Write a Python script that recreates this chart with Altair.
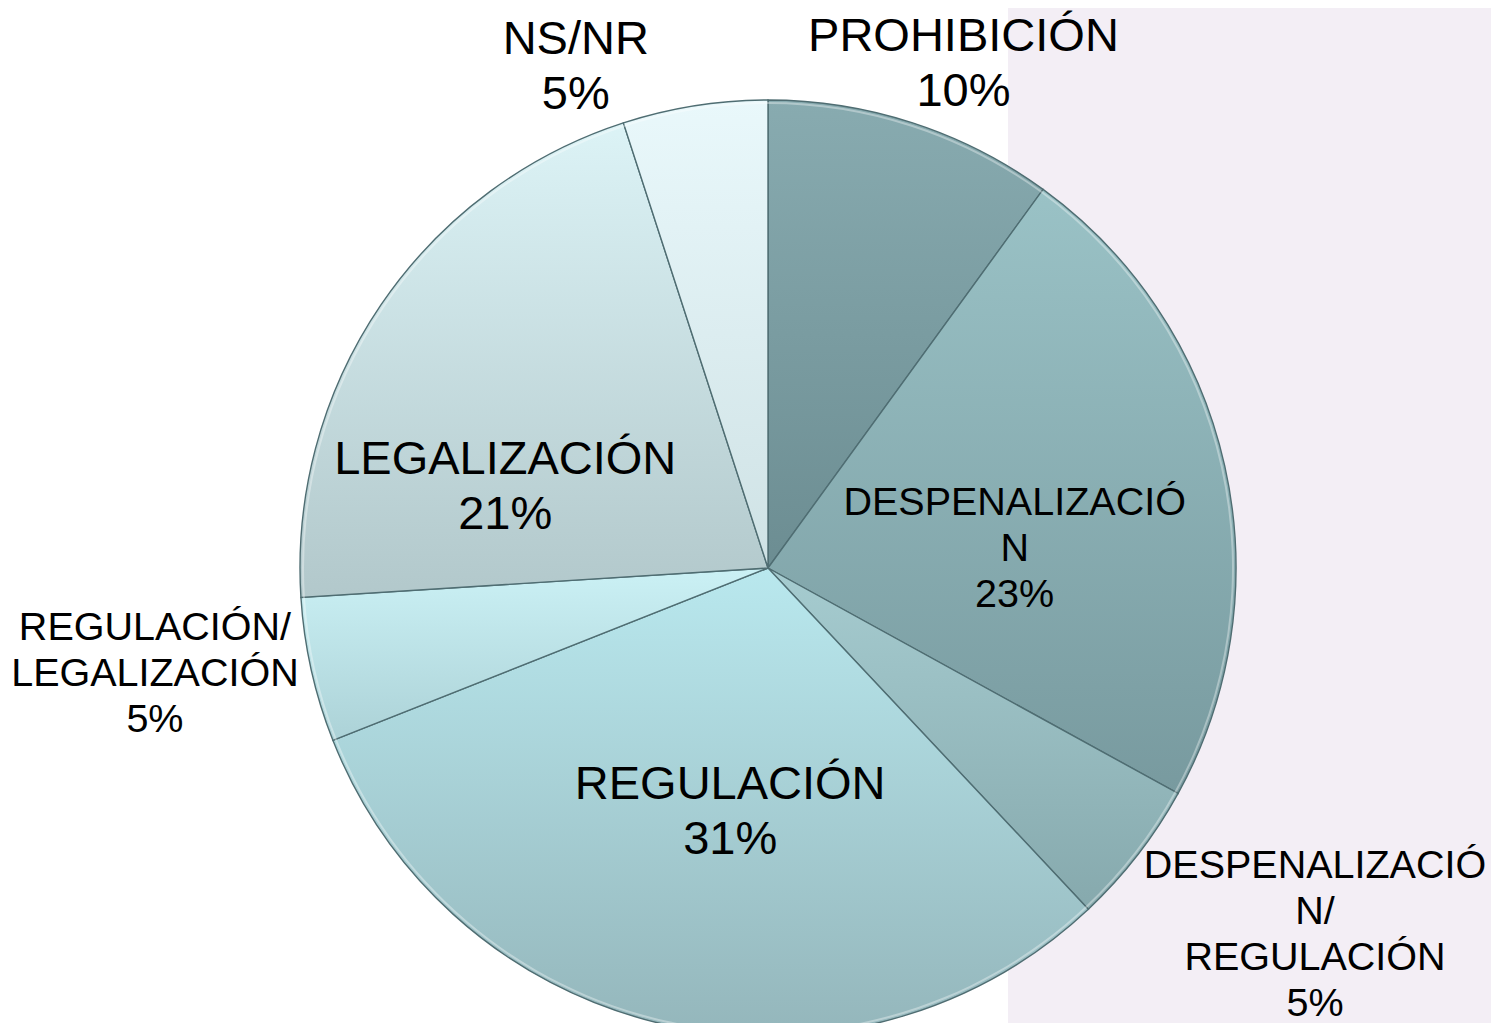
import altair as alt
import pandas as pd

# ---- data ----
categories = [
    "PROHIBICIÓN",
    "DESPENALIZACIÓN",
    "DESPENALIZACIÓN/REGULACIÓN",
    "REGULACIÓN",
    "REGULACIÓN/LEGALIZACIÓN",
    "LEGALIZACIÓN",
    "NS/NR",
]
values = [10, 23, 5, 31, 5, 21, 5]
label_text = [
    "PROHIBICIÓN",
    "DESPENALIZACIÓ\nN",
    "DESPENALIZACIÓ\nN/\nREGULACIÓN",
    "REGULACIÓN",
    "REGULACIÓN/\nLEGALIZACIÓN",
    "LEGALIZACIÓN",
    "NS/NR",
]

# ---- styling / layout (not data) ----
CX, CY, R = 760, 560, 468
W, H = 1483, 1015
# per-slice vertical gradient (top colour, bottom colour)
slice_colors = {
    "PROHIBICIÓN": ("#88abb0", "#6c8d92"),
    "DESPENALIZACIÓN": ("#9ac2c6", "#789a9f"),
    "DESPENALIZACIÓN/REGULACIÓN": ("#a6ccd0", "#86a9ad"),
    "REGULACIÓN": ("#b9e8ee", "#94b6bb"),
    "REGULACIÓN/LEGALIZACIÓN": ("#cbf1f5", "#acd2d7"),
    "LEGALIZACIÓN": ("#dcf3f6", "#b2c8cb"),
    "NS/NR": ("#e9f8fb", "#cfe2e5"),
}
# label placement of the first text line: (radius px, angular nudge deg, big font?)
label_layout = {
    "PROHIBICIÓN": (566, 2.2, True),
    "DESPENALIZACIÓN": (255, -2.1, False),
    "DESPENALIZACIÓN/REGULACIÓN": (623, -9.2, False),
    "REGULACIÓN": (220, -2.7, True),
    "REGULACIÓN/LEGALIZACIÓN": (616, 7.0, False),
    "LEGALIZACIÓN": (284, -11.9, True),
    "NS/NR": (562, -11.0, True),
}

df = pd.DataFrame({
    "cat": categories,
    "value": values,
    "label": label_text,
    "order": list(range(len(categories))),
    "lr": [label_layout[c][0] for c in categories],
    "shift": [label_layout[c][1] for c in categories],
    "big": [label_layout[c][2] for c in categories],
})

theta_scale = alt.Scale(domain=[0, 100])

base = (
    alt.Chart(df)
    .transform_window(cum="sum(value)", sort=[alt.SortField("order")], frame=[None, 0])
    .transform_calculate(
        start="datum.cum - datum.value",
        end="datum.cum",
        mid="datum.cum - datum.value / 2 + datum.shift / 3.6",
        txt="datum.label + '\\n' + datum.value + '%'",
    )
)

# decorative lavender slide background on the right
bg = alt.Chart(alt.Data(values=[{"a": 1}])).mark_rect(color="#f3eef5").encode(
    x=alt.value(1000), x2=alt.value(W), y=alt.value(0), y2=alt.value(H)
)

layers = [bg]
for c in categories:
    top, bottom = slice_colors[c]
    grad = {
        "gradient": "linear",
        "x1": 0, "y1": 0, "x2": 0, "y2": 1,
        "stops": [
            {"offset": 0, "color": top},
            {"offset": 1, "color": bottom},
        ],
    }
    layers.append(
        base.transform_filter(alt.datum.cat == c)
        .mark_arc(radius=R, fill=grad, stroke="#4f6d72", strokeWidth=1.4)
        .encode(
            theta=alt.Theta("start:Q", scale=theta_scale),
            theta2="end:Q",
            x=alt.value(CX),
            y=alt.value(CY),
        )
    )

# soft highlight just inside the outer rim (bevel look)
layers.append(
    base.mark_arc(radius=R - 4, radius2=R - 2, fill="white", fillOpacity=0.35, strokeWidth=0)
    .encode(
        theta=alt.Theta("start:Q", scale=theta_scale),
        theta2="end:Q",
        x=alt.value(CX),
        y=alt.value(CY),
    )
)

text_common = dict(
    font="Liberation Sans", align="center", baseline="middle", color="black", lineBreak="\n"
)
big_text = (
    base.transform_filter("datum.big")
    .mark_text(fontSize=47, lineHeight=55, **text_common)
    .encode(
        theta=alt.Theta("mid:Q", scale=theta_scale),
        radius=alt.Radius("lr:Q", scale=None),
        text="txt:N",
        x=alt.value(CX),
        y=alt.value(CY),
    )
)
small_text = (
    base.transform_filter("!datum.big")
    .mark_text(fontSize=39.5, lineHeight=46, **text_common)
    .encode(
        theta=alt.Theta("mid:Q", scale=theta_scale),
        radius=alt.Radius("lr:Q", scale=None),
        text="txt:N",
        x=alt.value(CX),
        y=alt.value(CY),
    )
)
layers += [big_text, small_text]

chart = (
    alt.layer(*layers)
    .properties(width=W, height=H, autosize="none", padding=0)
    .configure_view(strokeWidth=0)
)

chart.save("out.html", embed_options={"renderer": "svg", "actions": False})
